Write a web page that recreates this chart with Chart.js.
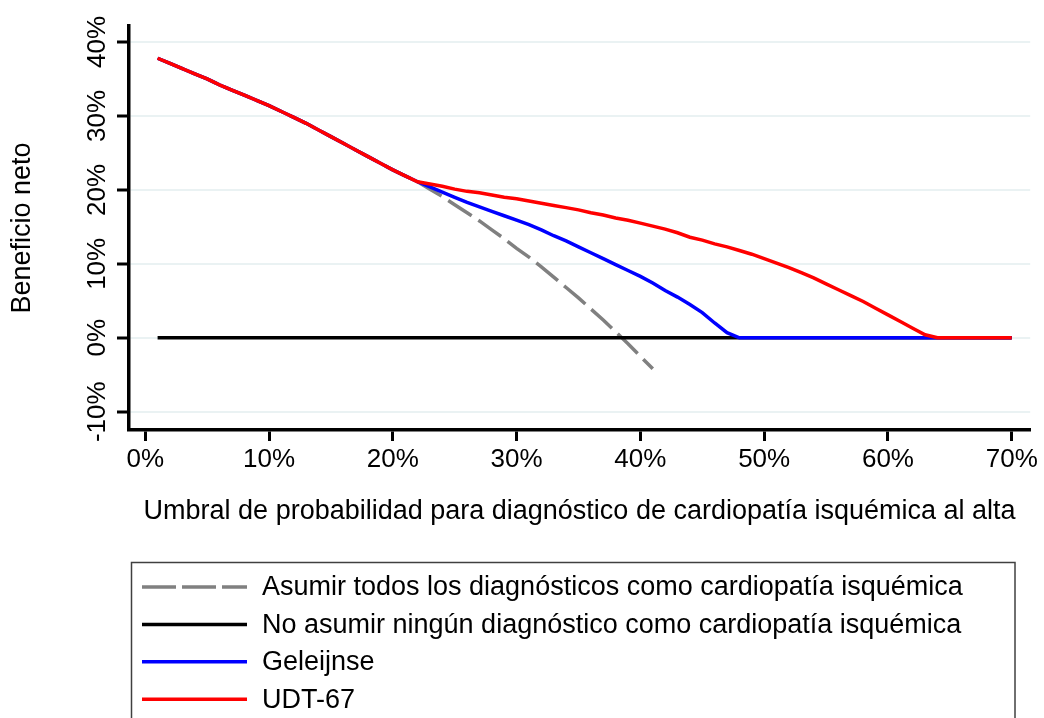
<!DOCTYPE html>
<html>
<head>
<meta charset="utf-8">
<script src="https://cdn.jsdelivr.net/npm/chart.js@4/dist/chart.umd.min.js"></script>
<style>
  html, body { margin: 0; padding: 0; background: #fff; }
  canvas { display: block; }
</style>
</head>
<body>
<canvas id="grafico" width="1044" height="718"></canvas>
<script>
// Umbrales de probabilidad (%)
const umbral = [
  1, 2, 3, 4, 5, 6, 7, 8, 9, 10, 11, 12, 13, 14, 15, 16, 17, 18, 19, 20,
  21, 22, 23, 24, 25, 26, 27, 28, 29, 30, 31, 32, 33, 34, 35, 36, 37, 38, 39, 40,
  41, 42, 43, 44, 45, 46, 47, 48, 49, 50, 51, 52, 53, 54, 55, 56, 57, 58, 59, 60,
  61, 62, 63, 64, 65, 66, 67, 68, 69, 70
];

// Beneficio neto (%) por estrategia
const asumirTodos = [
  37.8, 37.1, 36.4, 35.7, 35.0, 34.2, 33.5, 32.8, 32.1, 31.4, 30.6, 29.8, 29.0, 28.1, 27.2, 26.3, 25.4, 24.5, 23.6, 22.7,
  21.9, 21.1, 20.1, 19.1, 18.0, 16.9, 15.8, 14.6, 13.4, 12.1, 10.9, 9.6, 8.2, 6.8, 5.4, 3.9, 2.4, 0.8, -0.8, -2.5,
  -4.2
];
const noAsumir = [
  0, 0, 0, 0, 0, 0, 0, 0, 0, 0, 0, 0, 0, 0, 0, 0, 0, 0, 0, 0,
  0, 0, 0, 0, 0, 0, 0, 0, 0, 0, 0, 0, 0, 0, 0, 0, 0, 0, 0, 0,
  0, 0, 0, 0, 0, 0, 0, 0, 0, 0, 0, 0, 0, 0, 0, 0, 0, 0, 0, 0,
  0, 0, 0, 0, 0, 0, 0, 0, 0, 0
];
const geleijnse = [
  37.8, 37.1, 36.4, 35.7, 35.0, 34.2, 33.5, 32.8, 32.1, 31.4, 30.6, 29.8, 29.0, 28.1, 27.2, 26.3, 25.4, 24.5, 23.6, 22.7,
  21.9, 21.1, 20.4, 19.7, 19.0, 18.3, 17.7, 17.1, 16.5, 15.9, 15.3, 14.6, 13.8, 13.1, 12.3, 11.5, 10.7, 9.9, 9.1, 8.3,
  7.4, 6.4, 5.5, 4.5, 3.4, 2.0, 0.7, 0, 0, 0, 0, 0, 0, 0, 0, 0, 0, 0, 0, 0,
  0, 0, 0, 0, 0, 0, 0, 0, 0, 0
];
const udt67 = [
  37.8, 37.1, 36.4, 35.7, 35.0, 34.2, 33.5, 32.8, 32.1, 31.4, 30.6, 29.8, 29.0, 28.1, 27.2, 26.3, 25.4, 24.5, 23.6, 22.7,
  21.9, 21.1, 20.8, 20.5, 20.1, 19.8, 19.6, 19.3, 19.0, 18.8, 18.5, 18.2, 17.9, 17.6, 17.3, 16.9, 16.6, 16.2, 15.9, 15.5,
  15.1, 14.7, 14.2, 13.6, 13.2, 12.7, 12.3, 11.8, 11.3, 10.7, 10.1, 9.5, 8.8, 8.1, 7.3, 6.5, 5.7, 4.9, 4.0, 3.1,
  2.2, 1.3, 0.4, 0, 0, 0, 0, 0, 0, 0
];

const etiquetas = [
  'Asumir todos los diagnósticos como cardiopatía isquémica',
  'No asumir ningún diagnóstico como cardiopatía isquémica',
  'Geleijnse',
  'UDT-67'
];

const ticksX = [0, 10, 20, 30, 40, 50, 60, 70];
const ticksY = [-10, 0, 10, 20, 30, 40];

const fuente = '"Liberation Sans", Arial, sans-serif';
Chart.defaults.font.family = fuente;
Chart.defaults.color = '#000';

function puntos(valores) {
  return valores.map((v, i) => ({ x: umbral[i], y: v }));
}

// Leyenda dibujada a mano (caja con borde, como en Stata)
const leyendaCaja = {
  id: 'leyendaCaja',
  afterDraw(chart) {
    const ctx = chart.ctx;
    ctx.save();
    ctx.strokeStyle = '#404040';
    ctx.lineWidth = 1.5;
    ctx.strokeRect(131.5, 562.5, 883.5, 200);

    ctx.font = '27px ' + fuente;
    ctx.textBaseline = 'middle';
    ctx.textAlign = 'left';
    chart.data.datasets.forEach((ds, i) => {
      const y = 587 + i * 37.4;
      ctx.beginPath();
      ctx.strokeStyle = ds.borderColor;
      ctx.lineWidth = 3.5;
      ctx.setLineDash(ds.borderDash && ds.borderDash.length ? [34, 6] : []);
      ctx.moveTo(142, y);
      ctx.lineTo(247, y);
      ctx.stroke();
      ctx.setLineDash([]);
      ctx.fillStyle = '#000';
      ctx.fillText(ds.label, 262, y + 1);
    });
    ctx.restore();
  }
};

const ctx = document.getElementById('grafico').getContext('2d');
new Chart(ctx, {
  type: 'line',
  data: {
    datasets: [
      {
        label: etiquetas[0],
        data: puntos(asumirTodos),
        borderColor: '#808080',
        borderWidth: 3.5,
        borderDash: [28, 8],
        order: 4
      },
      {
        label: etiquetas[1],
        data: puntos(noAsumir),
        borderColor: '#000000',
        borderWidth: 3.5,
        order: 3
      },
      {
        label: etiquetas[2],
        data: puntos(geleijnse),
        borderColor: '#0000ff',
        borderWidth: 3.5,
        order: 2
      },
      {
        label: etiquetas[3],
        data: puntos(udt67),
        borderColor: '#ff0000',
        borderWidth: 3.5,
        order: 1
      }
    ]
  },
  options: {
    responsive: false,
    animation: false,
    events: [],
    elements: {
      point: { radius: 0 },
      line: { tension: 0, fill: false }
    },
    layout: {
      padding: { left: 0, top: 26, right: 11, bottom: 178 }
    },
    plugins: {
      legend: { display: false },
      tooltip: { enabled: false }
    },
    scales: {
      x: {
        type: 'linear',
        min: -1.31,
        max: 71.49,
        afterBuildTicks: s => { s.ticks = ticksX.map(v => ({ value: v })); },
        afterFit: s => { s.height = 110; },
        ticks: {
          callback: v => v + '%',
          font: { size: 26, lineHeight: 1 },
          padding: 6,
          autoSkip: false,
          maxRotation: 0
        },
        grid: {
          drawOnChartArea: false,
          tickLength: 11,
          tickColor: '#000',
          tickWidth: 3
        },
        border: { display: true, color: '#000', width: 3.5 },
        title: {
          display: true,
          text: 'Umbral de probabilidad para diagnóstico de cardiopatía isquémica al alta',
          font: { size: 27, lineHeight: 1 },
          padding: { top: 0, bottom: 15 }
        }
      },
      y: {
        type: 'linear',
        min: -12.47,
        max: 42.16,
        afterBuildTicks: s => { s.ticks = ticksY.map(v => ({ value: v })); },
        afterFit: s => { s.width = 129; },
        ticks: {
          callback: v => v + '%',
          font: { size: 26, lineHeight: 1 },
          minRotation: 90,
          maxRotation: 90,
          crossAlign: 'center',
          padding: -11,
          autoSkip: false
        },
        grid: {
          color: '#eaf2f3',
          lineWidth: 2,
          tickLength: 12,
          tickColor: '#000',
          tickWidth: 3
        },
        border: { display: true, color: '#000', width: 3.5 },
        title: {
          display: true,
          text: 'Beneficio neto',
          font: { size: 27, lineHeight: 1 },
          padding: { top: 9, bottom: 0 }
        }
      }
    }
  },
  plugins: [leyendaCaja]
});
</script>
</body>
</html>
